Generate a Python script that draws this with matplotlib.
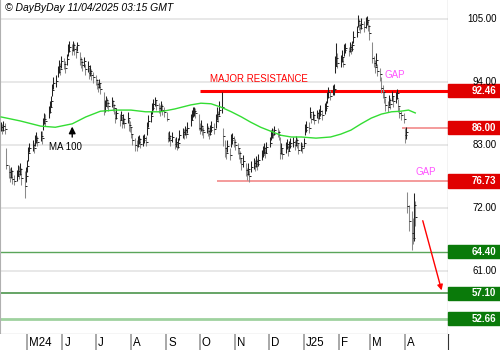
import matplotlib
matplotlib.use('Agg')
import matplotlib.pyplot as plt
import matplotlib.markers as mmarkers
import pandas as pd
from matplotlib.patches import Rectangle

plt.rcParams['font.family'] = ['Liberation Sans', 'DejaVu Sans']

# Daily bars, one row per month (Apr 2024 .. Apr 2025)
dates = pd.bdate_range('2024-04-08', '2025-04-10')
highs = [
    87.0, 86.6, 87.2, 86.8, 82.5, 79.5, 78.9, 79.2, 78.6, 77.8, 78.6, 79.5, 79.3, 79.8, 79.0, 78.4, 79.2,
    80.4, 82.6, 83.3, 83.8, 83.4, 84.8, 85.2, 84.6, 85.5, 85.4, 87.8, 88.6, 88.4, 89.8, 90.6, 91.5, 93.6, 94.8, 95.2, 96.8, 97.8, 97.4, 98.5,
    98.2, 97.6, 98.9, 100.6, 101.2, 100.6, 101.2, 100.8, 100.3, 101.0, 99.2, 98.4, 97.8, 98.4, 97.2, 97.6, 96.6, 96.9, 96.2, 95.8,
    95.2, 94.5, 94.0, 94.6, 93.8, 92.2, 90.8, 91.6, 91.2, 90.6, 91.3, 90.9, 90.2, 89.0, 89.4, 88.4, 89.0, 88.0, 88.5, 87.8, 88.7, 87.5, 87.2,
    86.2, 85.0, 84.2, 83.8, 84.5, 84.8, 84.2, 84.7, 85.0, 84.6, 87.0, 88.2, 89.0, 90.4, 91.0, 91.3, 90.9, 90.4, 89.9, 90.6, 90.1, 89.7,
    88.8, 85.3, 85.4, 84.8, 85.2, 84.2, 84.4, 83.5, 84.3, 85.7, 86.0, 85.8, 86.4, 85.9, 87.0, 88.4, 89.2, 89.6, 89.6, 89.5, 88.4,
    86.8, 87.4, 86.5, 86.1, 86.9, 86.3, 85.8, 86.5, 87.2, 86.8, 88.4, 89.6, 89.0, 90.6, 92.3, 86.0, 83.9, 82.6, 83.9, 82.4, 85.0, 85.1, 84.6,
    84.0, 83.4, 82.5, 81.9, 80.8, 81.2, 79.8, 78.9, 79.8, 78.6, 80.2, 80.8, 80.4, 81.1, 80.6, 81.4, 82.2, 82.8, 83.3, 82.6, 83.5,
    84.4, 85.7, 86.0, 85.8, 86.3, 86.0, 85.6, 84.4, 83.3, 82.4, 83.5, 84.0, 83.0, 83.7, 84.2, 84.4, 83.9, 84.5, 84.2, 83.3, 83.6, 83.3,
    84.2, 86.6, 87.2, 87.0, 89.6, 88.6, 89.0, 88.4, 89.2, 88.8, 89.3, 89.9, 89.2, 90.3, 90.6, 92.3, 93.1, 92.6, 93.4, 93.6, 98.6, 100.8, 99.0,
    98.8, 99.6, 98.4, 100.6, 100.8, 100.2, 100.9, 100.6, 101.2, 102.9, 103.8, 105.7, 105.0, 104.3, 105.1, 104.6, 105.3, 105.6, 104.8, 104.0,
    101.0, 98.6, 97.8, 99.0, 97.2, 96.4, 94.9, 93.4, 92.4, 91.2, 90.6, 91.8, 91.2, 92.4, 91.6, 92.2, 92.8, 91.0, 89.6, 89.0, 88.6,
    86.0, 86.2, 74.8, 72.6, 71.4, 70.2, 74.6, 73.2,
]
lows = [
    85.4, 84.9, 85.5, 85.0, 78.8, 77.3, 76.6, 77.2, 76.2, 76.0, 76.8, 77.6, 77.0, 77.7, 76.0, 73.7, 76.5,
    78.2, 80.2, 81.8, 82.0, 81.6, 82.8, 83.4, 82.8, 83.7, 83.2, 85.6, 86.6, 86.3, 87.8, 88.6, 89.6, 91.6, 92.8, 93.2, 94.8, 95.6, 95.2, 96.4,
    96.2, 95.6, 97.0, 98.5, 99.2, 98.7, 99.5, 98.8, 98.2, 99.4, 96.9, 96.5, 95.9, 96.6, 95.2, 95.8, 94.5, 95.0, 94.3, 93.8,
    93.4, 92.8, 92.2, 92.9, 91.9, 88.2, 88.8, 89.8, 89.5, 88.9, 89.7, 89.0, 88.5, 86.9, 87.6, 86.4, 87.3, 86.0, 86.6, 85.9, 86.8, 85.5, 85.2,
    84.2, 83.0, 82.0, 82.0, 82.7, 83.1, 82.4, 82.9, 83.3, 82.8, 84.8, 86.2, 87.0, 88.4, 89.2, 89.8, 89.1, 88.6, 88.1, 88.9, 88.3, 87.9,
    87.2, 83.5, 83.7, 82.9, 83.5, 82.3, 82.7, 82.1, 82.5, 83.9, 84.3, 84.0, 84.7, 84.2, 85.1, 86.4, 87.3, 87.9, 88.1, 87.7, 85.6,
    84.9, 85.5, 84.7, 84.3, 85.1, 84.5, 84.0, 84.7, 85.3, 84.9, 86.0, 87.4, 87.0, 88.2, 88.6, 82.8, 80.9, 80.6, 81.8, 80.4, 82.6, 83.2, 82.6,
    82.1, 81.4, 80.6, 79.8, 78.6, 79.2, 77.6, 76.9, 77.8, 76.5, 78.2, 78.8, 78.4, 79.2, 78.6, 79.4, 80.3, 80.9, 81.5, 80.7, 81.6,
    82.6, 83.8, 84.3, 84.2, 84.7, 84.4, 83.9, 80.6, 81.4, 80.6, 81.6, 82.3, 81.0, 81.9, 82.5, 82.7, 82.1, 82.9, 82.5, 81.4, 81.9, 81.6,
    82.6, 84.8, 85.2, 85.1, 87.8, 86.8, 87.3, 86.6, 87.7, 86.9, 87.5, 88.1, 87.4, 88.5, 88.9, 90.4, 91.2, 90.8, 91.7, 91.8, 95.6, 96.8, 96.4,
    96.6, 97.5, 96.6, 98.6, 99.1, 98.6, 99.3, 98.9, 99.5, 100.8, 101.8, 103.6, 103.1, 102.6, 103.3, 102.7, 103.5, 103.9, 102.9, 101.4,
    97.4, 96.6, 95.6, 96.8, 95.0, 94.2, 92.0, 91.2, 90.4, 89.0, 88.8, 89.8, 89.3, 90.6, 89.7, 90.3, 91.0, 88.8, 87.7, 87.3, 86.8,
    83.4, 84.0, 71.2, 68.0, 64.6, 65.8, 66.2, 68.8,
]
closes = [
    86.2, 85.6, 86.4, 85.8, 79.5, 78.2, 77.5, 78.4, 77.0, 76.8, 77.6, 78.5, 77.9, 78.8, 77.2, 75.8, 77.6,
    79.4, 81.6, 82.5, 83.0, 82.4, 83.8, 84.3, 83.6, 84.6, 84.2, 86.8, 87.6, 87.2, 88.8, 89.6, 90.6, 92.6, 93.8, 94.2, 95.8, 96.8, 96.2, 97.6,
    97.2, 96.5, 98.0, 99.5, 100.2, 99.6, 100.5, 99.8, 99.2, 100.4, 98.0, 97.5, 96.9, 97.6, 96.2, 96.8, 95.5, 96.0, 95.2, 94.8,
    94.3, 93.6, 93.2, 93.8, 92.8, 89.2, 89.8, 90.8, 90.4, 89.8, 90.6, 90.0, 89.4, 87.8, 88.6, 87.4, 88.2, 86.9, 87.6, 86.8, 87.8, 86.5, 86.2,
    85.0, 83.8, 83.0, 82.8, 83.6, 84.0, 83.2, 83.8, 84.2, 83.6, 86.0, 87.2, 88.0, 89.4, 90.2, 90.8, 90.0, 89.5, 89.0, 89.8, 89.2, 88.8,
    87.6, 84.2, 84.6, 83.8, 84.4, 83.2, 83.6, 82.6, 83.4, 84.8, 85.2, 84.9, 85.6, 85.0, 86.0, 87.4, 88.2, 88.8, 89.0, 88.6, 86.0,
    85.8, 86.4, 85.6, 85.2, 86.0, 85.4, 84.9, 85.6, 86.2, 85.8, 87.2, 88.4, 88.0, 89.2, 89.6, 84.6, 82.4, 81.6, 82.8, 81.2, 83.8, 84.2, 83.6,
    83.0, 82.4, 81.6, 80.8, 79.6, 80.2, 78.6, 77.9, 78.8, 77.6, 79.2, 79.8, 79.4, 80.2, 79.6, 80.4, 81.2, 81.8, 82.4, 81.6, 82.6,
    83.4, 84.8, 85.2, 85.0, 85.6, 85.2, 84.8, 81.6, 82.4, 81.4, 82.6, 83.2, 82.0, 82.8, 83.4, 83.6, 83.0, 83.8, 83.4, 82.2, 82.8, 82.4,
    83.4, 85.6, 86.2, 86.0, 88.8, 87.6, 88.2, 87.4, 88.6, 87.8, 88.4, 89.0, 88.2, 89.4, 89.8, 91.4, 92.2, 91.6, 92.6, 92.8, 96.8, 98.2, 97.4,
    97.6, 98.4, 97.2, 99.6, 100.0, 99.4, 100.2, 99.8, 100.4, 101.8, 102.8, 104.6, 104.0, 103.4, 104.2, 103.6, 104.4, 104.8, 103.8, 102.6,
    98.2, 97.4, 96.6, 97.8, 96.0, 95.4, 93.0, 92.2, 91.4, 90.0, 89.6, 90.8, 90.2, 91.6, 90.6, 91.2, 92.0, 89.8, 88.6, 88.2, 87.6,
    84.8, 85.2, 72.4, 69.8, 67.6, 66.8, 72.6, 70.4,
]

# 100-day moving average
ma_dates = pd.to_datetime([
    '2024-04-08', '2024-04-25', '2024-05-13', '2024-05-26', '2024-06-10', '2024-06-22', '2024-07-05',
    '2024-07-18', '2024-08-01', '2024-08-14', '2024-08-27', '2024-09-09', '2024-09-23', '2024-10-02',
    '2024-10-11', '2024-10-20', '2024-10-29', '2024-11-07', '2024-11-15', '2024-11-24', '2024-12-03',
    '2024-12-12', '2024-12-21', '2024-12-30', '2025-01-12', '2025-01-25', '2025-02-03', '2025-02-12',
    '2025-02-21', '2025-03-02', '2025-03-11', '2025-03-20', '2025-03-28', '2025-04-04', '2025-04-10',
])
ma_values = [87.9, 87.2, 86.3, 86.1, 86.7, 87.9, 88.9, 89.1, 89.1, 88.8, 88.8, 89.3, 90.0, 90.3,
             90.2, 89.6, 88.8, 87.9, 87.0, 86.1, 85.4, 84.7, 84.4, 84.4, 84.2, 84.4, 84.9, 85.6,
             86.7, 87.7, 88.4, 88.8, 88.9, 89.1, 88.6]

grid_levels = [105, 94, 83, 72, 61]
resistance = 92.46
upper_gap = 86.00
lower_gap = 76.73
supports = [64.40, 57.10, 52.66]

month_starts = pd.to_datetime(['2024-05-01', '2024-06-01', '2024-07-01', '2024-08-01', '2024-09-01',
                               '2024-10-01', '2024-11-01', '2024-12-01', '2025-01-01', '2025-02-01',
                               '2025-03-01', '2025-04-01'])
month_labels = ['M24', 'J', 'J', 'A', 'S', 'O', 'N', 'D', 'J25', 'F', 'M', 'A']

x_start = pd.Timestamp('2024-04-07')
x_end = pd.Timestamp('2025-05-09')

W, H = 500, 350
fig = plt.figure(figsize=(W / 100, H / 100), dpi=100)
ax = fig.add_axes([0, 16 / H, 448 / W, 334 / H])
ax.set_xlim(x_start, x_end)
ax.set_ylim(50.0, 108.32)
ax.set_xticks([])
ax.set_yticks([])
ax.spines['top'].set_visible(False)
ax.spines['left'].set_color('#b0b0b0')
ax.spines['right'].set_color('#333333')
ax.spines['bottom'].set_color('#555555')

for lv in grid_levels:
    ax.axhline(lv, color='#e6e6e6', lw=1.3, zorder=0)

# support lines in green
ax.axhline(supports[0], color='#5aa55a', lw=1.0, zorder=1)
ax.axhline(supports[1], color='#3c8c3c', lw=1.1, zorder=1)
ax.axhline(supports[2], color='#9fd29f', lw=2.0, zorder=1)

# resistance and gap levels
ax.hlines(resistance, pd.Timestamp('2024-10-01'), x_end, color='#ff0000', lw=2.2, zorder=3)
ax.hlines(upper_gap, pd.Timestamp('2025-03-29'), x_end, color='#f28a8a', lw=1.2, zorder=1)
ax.hlines(lower_gap, pd.Timestamp('2024-10-16'), x_end, color='#f28a8a', lw=1.2, zorder=1)

# bars
prev = [closes[0]] + closes[:-1]
bar_colors = ['#222222' if c >= p else '#8a8a8a' for c, p in zip(closes, prev)]
ax.vlines(dates, lows, highs, colors=bar_colors, lw=0.75, zorder=4)
ax.plot(dates, closes, linestyle='none', marker=mmarkers.TICKRIGHT, ms=1.6, mew=0.7,
        color='#222222', zorder=4)

ax.plot(ma_dates, ma_values, color='#33dd33', lw=1.0, zorder=5)

# annotations
ax.text(pd.Timestamp('2024-10-10'), 94.52, 'MAJOR RESISTANCE', color='#ff0000', fontsize=7,
        ha='left', va='center')
ax.text(pd.Timestamp('2025-03-23'), 95.22, 'GAP', color='#ff55ff', fontsize=7, ha='center', va='center')
ax.text(pd.Timestamp('2025-04-19'), 78.28, 'GAP', color='#ff55ff', fontsize=7, ha='center', va='center')
ax.annotate('', xy=(pd.Timestamp('2024-06-10'), 86.7), xytext=(pd.Timestamp('2024-06-10'), 83.9),
            arrowprops=dict(arrowstyle='-|>', color='black', lw=1, mutation_scale=10))
ax.text(pd.Timestamp('2024-06-04'), 82.65, 'MA 100', fontsize=7, ha='center', va='center')
ax.annotate('', xy=(pd.Timestamp('2025-05-04'), 57.15), xytext=(pd.Timestamp('2025-04-16'), 70.25),
            arrowprops=dict(arrowstyle='-|>', color='#ff0000', lw=1, mutation_scale=8))

# month strip under the chart
bx = fig.add_axes([0, 0, 448 / W, 16 / H], sharex=ax)
bx.set_ylim(0, 1)
bx.set_xticks([])
bx.set_yticks([])
for s in bx.spines.values():
    s.set_visible(False)
bx.spines['right'].set_visible(True)
bx.spines['right'].set_color('#333333')
for d, lab in zip(month_starts, month_labels):
    bx.axvline(d, color='#999999', lw=1.2)
    bx.text(d + pd.Timedelta(days=2), 0.45, lab, fontsize=8.3, ha='left', va='center')

# price scale on the right
rx = fig.add_axes([448 / W, 16 / H, 52 / W, 334 / H], sharey=ax)
rx.set_xlim(0, 1)
rx.set_xticks([])
rx.set_yticks([])
for s in rx.spines.values():
    s.set_visible(False)
for lv in grid_levels:
    rx.text(0.93, lv, f'{lv:.2f}', fontsize=7, ha='right', va='center')
for lv in [resistance, upper_gap, lower_gap]:
    rx.add_patch(Rectangle((0, lv - 1.15), 1, 2.3, color='#e00000', clip_on=False))
    rx.text(0.93, lv, f'{lv:.2f}', fontsize=7, ha='right', va='center', color='white', weight='bold')
for lv in supports:
    rx.add_patch(Rectangle((0, lv - 1.15), 1, 2.3, color='#0a7a0a', clip_on=False))
    rx.text(0.93, lv, f'{lv:.2f}', fontsize=7, ha='right', va='center', color='white', weight='bold')

fig.text(5 / W, 1 - 8 / H, '\u00a9 DayByDay 11/04/2025 03:15 GMT', fontsize=7.5, style='italic',
         ha='left', va='center')

fig.savefig('out.png', dpi=100)
